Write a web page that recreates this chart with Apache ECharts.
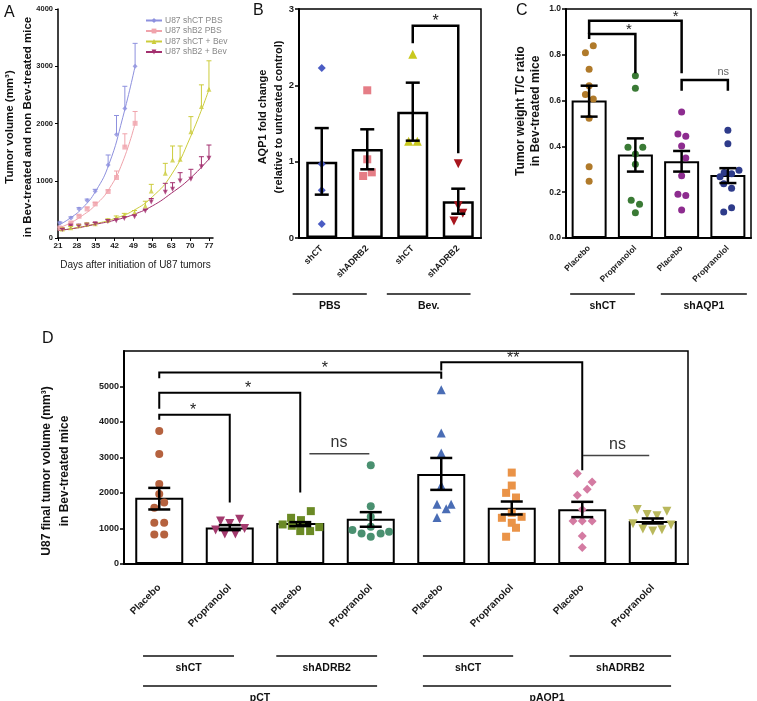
<!DOCTYPE html>
<html><head><meta charset="utf-8">
<script src="https://cdn.jsdelivr.net/npm/echarts@6/dist/echarts.min.js"></script>
<style>html,body{margin:0;padding:0;background:#fff}#c{width:757px;height:701px}</style>
</head><body><div id="c"></div>
<script>
// ================= DATA =================
// ---- Panel A (growth curves) ----
const aNames = ['U87 shCT PBS', 'U87 shB2 PBS', 'U87 shCT + Bev', 'U87 shB2 + Bev'];
const aDaysPbs = [21.7, 25.8, 28.8, 31.8, 34.8, 39.6, 42.7, 45.8, 49.6];
const aShctPbs = [263, 350, 508, 654, 818, 1273, 1810, 2260, 3000];
const aShctPbsTop = [280, 370, 530, 680, 850, 1450, 2140, 2650, 3400];
const aShb2Pbs = [175, 263, 380, 508, 596, 812, 1057, 1588, 2003];
const aShb2PbsTop = [190, 280, 400, 540, 620, 840, 1170, 1820, 2210];
const aDaysBev = [22.6, 25.7, 28.7, 31.7, 34.8, 39.5, 42.6, 45.6, 49.4, 53.4, 55.6, 60.8, 63.5, 66.3, 70.3, 74.2, 77.0];
const aShctBev = [158, 180, 216, 240, 251, 309, 356, 397, 444, 559, 821, 1130, 1362, 1375, 1857, 2295, 2599];
const aShctBevTop = [175, 200, 235, 260, 270, 335, 385, 430, 480, 642, 937, 1304, 1607, 1607, 2120, 2675, 3095];
const aShb2Bev = [150, 210, 210, 230, 250, 290, 300, 340, 370, 470, 630, 800, 850, 996, 1025, 1245, 1392];
const aShb2BevTop = [165, 225, 225, 245, 270, 320, 330, 370, 400, 500, 690, 955, 966, 1141, 1200, 1420, 1624];
const aFitDaysPbs = [21, 25, 30, 35, 40, 45, 49.6];
const aFitShctPbs = [220, 330, 520, 820, 1300, 2100, 3000];
const aFitShb2Pbs = [170, 250, 390, 580, 860, 1330, 2000];
const aFitDaysBev = [21, 28, 35, 42, 49, 56, 63, 70, 77.2];
const aFitShctBev = [130, 180, 250, 340, 480, 720, 1100, 1750, 2620];
const aFitShb2Bev = [130, 175, 240, 310, 410, 560, 780, 1040, 1390];

// ---- Panel B ----
const bCats = ['shCT', 'shADRB2', 'shCT', 'shADRB2'];
const bMean = [1.00, 1.166, 1.655, 0.48];
const bSemLo = [0.568, 0.90, 1.275, 0.318];
const bSemHi = [1.44, 1.424, 2.035, 0.646];
const bPts0 = [2.227, 0.969, 0.625, 0.183];
const bJit0 = [0, 0, 0, 0];
const bPts1 = [1.935, 1.031, 0.812, 0.860];
const bJit1 = [0, 0, -0.09, 0.10];
const bPts2 = [2.406, 1.266, 1.266];
const bJit2 = [0, -0.09, 0.10];
const bPts3 = [0.974, 0.424, 0.323, 0.223];
const bJit3 = [0, 0, 0.10, -0.095];
const bBrk = [[2, 3, 2.78, 2.55, 1.11, 2.5]];
const bBrkLab = ['*'];
const bGroups = ['PBS', 'Bev.'];
const bGroupSpan = [[-0.64, 0.99], [1.43, 3.27]];

// ---- Panel C ----
const cCats = ['Placebo', 'Propranolol', 'Placebo', 'Propranolol'];
const cMean = [0.60, 0.365, 0.335, 0.275];
const cSemLo = [0.53, 0.29, 0.29, 0.24];
const cSemHi = [0.665, 0.435, 0.38, 0.305];
const cPts0 = [0.840, 0.809, 0.737, 0.665, 0.627, 0.607, 0.523, 0.311, 0.248];
const cJit0 = [0.09, -0.08, 0, 0, -0.08, 0.09, 0, 0, 0];
const cPts1 = [0.709, 0.654, 0.396, 0.396, 0.367, 0.322, 0.165, 0.147, 0.110];
const cJit1 = [0, 0, -0.16, 0.16, 0, 0, -0.09, 0.09, 0];
const cPts2 = [0.550, 0.454, 0.444, 0.402, 0.349, 0.272, 0.191, 0.186, 0.122];
const cJit2 = [0, -0.08, 0.09, 0, 0.09, 0, -0.08, 0.09, 0];
const cPts3 = [0.470, 0.412, 0.268, 0.286, 0.281, 0.296, 0.237, 0.217, 0.132, 0.114];
const cJit3 = [0, 0, -0.17, -0.08, 0.08, 0.24, -0.09, 0.08, 0.08, -0.09];
const cBrk = [[0, 1, 0.891, 0.869, 0.719, 0.86], [0, 2, 0.949, 0.891, 0.719, 1.87], [2, 3, 0.69, 0.643, 0.643, 2.9]];
const cBrkLab = ['*', '*', 'ns'];
const cGroups = ['shCT', 'shAQP1'];
const cGroupSpan = [[-0.41, 0.99], [1.55, 3.41]];

// ---- Panel D ----
const dCats = ['Placebo', 'Propranolol', 'Placebo', 'Propranolol', 'Placebo', 'Propranolol', 'Placebo', 'Propranolol'];
const dMean = [1864, 1030, 1152, 1273, 2537, 1583, 1545, 1208];
const dSemLo = [1536, 955, 1067, 1049, 2088, 1395, 1320, 1142];
const dSemHi = [2144, 1096, 1180, 1461, 2987, 1760, 1751, 1283];
const dPts0 = [3745, 3099, 2256, 1975, 1733, 1582, 1161, 1161, 834, 834];
const dJit0 = [0, 0, 0, 0, 0.07, -0.07, -0.07, 0.07, -0.07, 0.07];
const dPts1 = [1208, 1143, 1264, 955, 843, 843, 1002];
const dJit1 = [-0.13, 0, 0.14, -0.2, -0.07, 0.08, 0.21];
const dPts2 = [1114, 1301, 1236, 1489, 1039, 1077, 927, 927];
const dJit2 = [-0.25, -0.13, 0.01, 0.15, 0.27, -0.12, 0, 0.14];
const dPts3 = [2781, 1629, 1329, 1048, 955, 862, 767, 862, 908];
const dJit3 = [0, 0, 0, 0, -0.26, -0.13, 0, 0.14, 0.26];
const dPts4 = [4907, 3689, 3127, 2210, 1685, 1685, 1554, 1311];
const dJit4 = [0, 0, 0, 0, -0.06, 0.14, 0.07, -0.06];
const dPts5 = [2575, 2210, 2004, 1873, 1442, 1301, 1329, 1161, 1021, 768];
const dJit5 = [0, 0, -0.08, 0.06, 0, -0.14, 0.14, 0, 0.06, -0.08];
const dPts6 = [2547, 2313, 2107, 1938, 1536, 1208, 1208, 1208, 786, 468];
const dJit6 = [-0.07, 0.14, 0.07, -0.07, 0, -0.13, 0, 0.14, 0, 0];
const dPts7 = [1536, 1395, 1358, 1489, 1133, 983, 927, 964, 1096];
const dJit7 = [-0.22, -0.08, 0.06, 0.2, -0.28, -0.14, 0, 0.13, 0.26];
const dBrk = [[0, 1, 4205, 4065, 1733, 0.48], [0, 2, 4823, 4374, 2014, 1.26], [0, 4, 5393, 5233, 5216, 2.35],
              [4, 6, 5683, 5450, 2640, 5.02], [2.13, 2.98, 3109, 3109, 3109, 2.55], [6.01, 6.95, 3053, 3053, 3053, 6.5]];
const dBrkLab = ['*', '*', '*', '**', 'ns', 'ns'];
const dGroups1 = ['shCT', 'shADRB2', 'shCT', 'shADRB2'];
const dGroupSpan1 = [[-0.23, 1.06], [1.66, 3.09], [3.74, 5.02], [5.82, 7.26]];
const dGroups2 = ['pCT', 'pAQP1'];
const dGroupSpan2 = [[-0.23, 3.09], [3.74, 7.26]];
const dTickValues = [0, 1000, 2000, 3000, 4000, 5000];

// ================= CHART =================
const F = '"Liberation Sans", Arial, Helvetica, sans-serif';
const DOWN = 'path://M0,0 L10,0 L5,9 Z';
const zip = (xs, ys) => xs.map((x, i) => [x, ys[i]]);
const jitter = (ci, pts, jit) => pts.map((v, i) => [ci + jit[i], v]);
const plain = v => String(v);

function errSeries(xi, yi, data, cap, lw, color, oneSided) {
  return {type: 'custom', xAxisIndex: xi, yAxisIndex: yi, data, z: 5, silent: true,
    renderItem: (params, api) => {
      const x = api.value(0), lo = api.value(1), hi = api.value(2);
      const a = api.coord([x, lo]), b = api.coord([x, hi]);
      const st = {stroke: color, lineWidth: lw};
      const ch = [
        {type: 'line', shape: {x1: a[0], y1: a[1], x2: b[0], y2: b[1]}, style: st},
        {type: 'line', shape: {x1: b[0] - cap / 2, y1: b[1], x2: b[0] + cap / 2, y2: b[1]}, style: st}];
      if (!oneSided) ch.push({type: 'line', shape: {x1: a[0] - cap / 2, y1: a[1], x2: a[0] + cap / 2, y2: a[1]}, style: st});
      return {type: 'group', children: ch};
    }};
}
function bracketSeries(xi, yi, data, labels, styleFn) {
  return {type: 'custom', xAxisIndex: xi, yAxisIndex: yi, data, z: 6, silent: true,
    renderItem: (params, api) => {
      const v = [0, 1, 2, 3, 4, 5].map(i => api.value(i));
      const pts = [api.coord([v[0], v[3]]), api.coord([v[0], v[2]]), api.coord([v[1], v[2]]), api.coord([v[1], v[4]])];
      const lab = labels[params.dataIndex];
      const s = styleFn(lab);
      const pl = api.coord([v[5], v[2]]);
      return {type: 'group', children: [
        {type: 'polyline', shape: {points: pts}, style: {stroke: s.line, lineWidth: s.lw, fill: null}},
        {type: 'text', x: pl[0], y: pl[1] + s.dy, style: {text: lab, align: 'center', verticalAlign: 'middle', font: s.font, fill: s.color}}
      ]};
    }};
}
function groupSeries(xi, yi, spans, labels, lineOff, textOff) {
  return {type: 'custom', xAxisIndex: xi, yAxisIndex: yi, data: spans, z: 6, silent: true, clip: false,
    renderItem: (params, api) => {
      const a = api.coord([api.value(0), 0]), b = api.coord([api.value(1), 0]);
      const y = a[1] + lineOff;
      return {type: 'group', children: [
        {type: 'line', shape: {x1: a[0], y1: y, x2: b[0], y2: y}, style: {stroke: '#111', lineWidth: 1.5}},
        {type: 'text', x: (a[0] + b[0]) / 2, y: a[1] + textOff, style: {text: labels[params.dataIndex], align: 'center', verticalAlign: 'middle', font: 'bold 10.5px ' + F, fill: '#111'}}
      ]};
    }};
}
function scatter(xi, yi, data, symbol, size, color) {
  return {type: 'scatter', xAxisIndex: xi, yAxisIndex: yi, data, symbol, symbolSize: size, z: 4, silent: true,
    itemStyle: {color: color, opacity: 1}};
}
function bars(xi, yi, data, w, bw) {
  return {type: 'bar', xAxisIndex: xi, yAxisIndex: yi, data, barWidth: w, z: 2, silent: true,
    itemStyle: {color: '#fff', borderColor: '#000', borderWidth: bw}};
}
function catAxis(g, data, fs, margin) {
  return {type: 'category', gridIndex: g, data,
    axisLine: {onZero: false, lineStyle: {color: '#000', width: 2}},
    axisTick: {alignWithLabel: true, length: 5, lineStyle: {color: '#000', width: 1.5}},
    axisLabel: {rotate: 45, margin, interval: 0, fontSize: fs, fontWeight: 'bold', fontFamily: F, color: '#1a1a1a'},
    splitLine: {show: false}};
}
const hidX = (g, n) => ({type: 'value', gridIndex: g, min: -0.5, max: n - 0.5, show: false});
function yAx(g, min, max, interval, fs, fmt, extra) {
  return Object.assign({type: 'value', gridIndex: g, min, max, interval,
    axisLine: {show: true, onZero: false, lineStyle: {color: '#000', width: 2}},
    axisTick: {show: true, length: 4, lineStyle: {color: '#000', width: 1.5}},
    axisLabel: {fontSize: fs, fontWeight: 'bold', fontFamily: F, color: '#1a1a1a', margin: 5, formatter: fmt},
    splitLine: {show: false}}, extra || {});
}

const series = [];
// ---- A ----
const aCol = ['#8d90de', '#f0a3ab', '#cccc3c', '#a3306f'];
const aSym = ['diamond', 'rect', 'triangle', DOWN];
const aFits = [zip(aFitDaysPbs, aFitShctPbs), zip(aFitDaysPbs, aFitShb2Pbs), zip(aFitDaysBev, aFitShctBev), zip(aFitDaysBev, aFitShb2Bev)];
const aPts = [zip(aDaysPbs, aShctPbs), zip(aDaysPbs, aShb2Pbs), zip(aDaysBev, aShctBev), zip(aDaysBev, aShb2Bev)];
const aErr = [
  aDaysPbs.map((d, i) => [d, aShctPbs[i], aShctPbsTop[i]]),
  aDaysPbs.map((d, i) => [d, aShb2Pbs[i], aShb2PbsTop[i]]),
  aDaysBev.map((d, i) => [d, aShctBev[i], aShctBevTop[i]]),
  aDaysBev.map((d, i) => [d, aShb2Bev[i], aShb2BevTop[i]])];
for (let k = 0; k < 4; k++) {
  series.push({type: 'line', name: aNames[k], xAxisIndex: 0, yAxisIndex: 0, data: aFits[k], smooth: true,
    showSymbol: false, symbol: aSym[k], symbolSize: 6, silent: true, z: 2,
    lineStyle: {color: aCol[k], width: 1}, itemStyle: {color: aCol[k]}});
  series.push(errSeries(0, 0, aErr[k], 5, 1, aCol[k], true));
  series.push({type: 'scatter', name: aNames[k], xAxisIndex: 0, yAxisIndex: 0, data: aPts[k], symbol: aSym[k],
    symbolSize: 5, silent: true, z: 4, itemStyle: {color: aCol[k]}});
}
// ---- B ----
series.push(bars(1, 1, bMean, 31, 2.5));
series.push(scatter(2, 1, jitter(0, bPts0, bJit0), 'diamond', 8, '#4b5cc4'));
series.push(scatter(2, 1, jitter(1, bPts1, bJit1), 'rect', 8, '#e57d86'));
series.push(scatter(2, 1, jitter(2, bPts2, bJit2), 'triangle', 9, '#c9c81e'));
series.push(scatter(2, 1, jitter(3, bPts3, bJit3), DOWN, 9, '#a8161e'));
series.push(errSeries(2, 1, bSemLo.map((l, i) => [i, l, bSemHi[i]]), 14, 2.5, '#000', false));
series.push(bracketSeries(2, 1, bBrk, bBrkLab, () => ({line: '#000', lw: 2.5, dy: -4, font: '16px ' + F, color: '#222'})));
series.push(groupSeries(2, 1, bGroupSpan, bGroups, 56, 68));
// ---- C ----
series.push(bars(3, 2, cMean, 35, 2));
series.push(scatter(4, 2, jitter(0, cPts0, cJit0), 'circle', 7, '#b07a2a'));
series.push(scatter(4, 2, jitter(1, cPts1, cJit1), 'circle', 7, '#3a7a35'));
series.push(scatter(4, 2, jitter(2, cPts2, cJit2), 'circle', 7, '#8d2c8f'));
series.push(scatter(4, 2, jitter(3, cPts3, cJit3), 'circle', 7, '#2e3b8a'));
series.push(errSeries(4, 2, cSemLo.map((l, i) => [i, l, cSemHi[i]]), 17, 2.5, '#000', false));
series.push(bracketSeries(4, 2, cBrk, cBrkLab, (lab) => lab === 'ns'
  ? {line: '#000', lw: 2.5, dy: -8, font: '11px ' + F, color: '#666'}
  : {line: '#000', lw: 2.5, dy: -4, font: '15px ' + F, color: '#222'}));
series.push(groupSeries(4, 2, cGroupSpan, cGroups, 56, 68));
// ---- D ----
series.push(bars(5, 3, dMean, 48, 2));
const dSets = [[dPts0, dJit0, 'circle', 8, '#b5623f'], [dPts1, dJit1, DOWN, 9, '#a33a6e'], [dPts2, dJit2, 'rect', 8, '#6b8a25'],
  [dPts3, dJit3, 'circle', 8, '#4a9070'], [dPts4, dJit4, 'triangle', 9, '#4a6db5'], [dPts5, dJit5, 'rect', 8, '#ea9347'],
  [dPts6, dJit6, 'diamond', 9, '#d47ba2'], [dPts7, dJit7, DOWN, 9, '#b9b85c']];
dSets.forEach((s, i) => series.push(scatter(6, 3, jitter(i, s[0], s[1]), s[2], s[3], s[4])));
series.push(errSeries(6, 3, dSemLo.map((l, i) => [i, l, dSemHi[i]]), 22, 2.5, '#000', false));
series.push(bracketSeries(6, 3, dBrk, dBrkLab, (lab) => lab === 'ns'
  ? {line: '#444', lw: 1.5, dy: -11, font: '16px ' + F, color: '#333'}
  : {line: '#000', lw: 2, dy: -4, font: '16px ' + F, color: '#222'}));
series.push(groupSeries(6, 3, dGroupSpan1, dGroups1, 92, 104));
series.push(groupSeries(6, 3, dGroupSpan2, dGroups2, 122, 134));

const txt = (t, x, y, font, rot, lh) => ({type: 'text', x, y, rotation: rot || 0, silent: true,
  style: {text: t, font, fill: '#111', align: 'center', verticalAlign: 'middle', lineHeight: lh || 17}});

const option = {
  animation: false,
  backgroundColor: '#fff',
  grid: [
    {left: 58, top: 9, width: 155, height: 229},
    {left: 299, top: 9, width: 182, height: 229, show: true, borderColor: '#000', borderWidth: 1.5},
    {left: 566, top: 9, width: 185, height: 229, show: true, borderColor: '#000', borderWidth: 1.5},
    {left: 124, top: 351, width: 564, height: 213, show: true, borderColor: '#000', borderWidth: 1.5}
  ],
  xAxis: [
    {type: 'value', gridIndex: 0, min: 21, max: 78.5, interval: 7,
      axisLine: {onZero: false, lineStyle: {color: '#000', width: 1.5}},
      axisTick: {length: 3, lineStyle: {color: '#000'}},
      axisLabel: {fontSize: 8, fontWeight: 'bold', fontFamily: F, color: '#1a1a1a', margin: 4},
      splitLine: {show: false},
      name: 'Days after initiation of U87 tumors', nameLocation: 'middle', nameGap: 22,
      nameTextStyle: {fontSize: 10, fontFamily: F, color: '#222'}},
    catAxis(1, bCats, 9, 9), hidX(1, 4),
    catAxis(2, cCats, 8.5, 9), hidX(2, 4),
    catAxis(3, dCats, 10, 22), hidX(3, 8)
  ],
  yAxis: [
    yAx(0, 0, 4000, 1000, 7.5, plain, {axisLine: {show: true, onZero: false, lineStyle: {color: '#000', width: 1.5}}, axisTick: {show: true, length: 3, lineStyle: {color: '#000'}}}),
    yAx(1, 0, 3, 1, 9.5, plain),
    yAx(2, 0, 1, 0.2, 8.5, v => v.toFixed(1)),
    yAx(3, 0, 6000, 1000, 9, plain, {
      axisTick: {show: true, length: 4, lineStyle: {color: '#000', width: 1.5}, customValues: dTickValues},
      axisLabel: {fontSize: 9, fontWeight: 'bold', fontFamily: F, color: '#1a1a1a', margin: 5, formatter: plain, customValues: dTickValues}})
  ],
  legend: {left: 140, top: 11, orient: 'vertical', itemGap: 1.5, itemWidth: 16, itemHeight: 6, selectedMode: false,
    data: aNames, textStyle: {fontSize: 8.5, lineHeight: 9, color: '#888', fontFamily: F, padding: [0, 0, 0, -2]}},
  graphic: [
    {type: 'text', left: 4, top: 5, silent: true, style: {text: 'A', font: '16px ' + F, fill: '#111'}},
    {type: 'text', left: 253, top: 3, silent: true, style: {text: 'B', font: '16px ' + F, fill: '#111'}},
    {type: 'text', left: 516, top: 3, silent: true, style: {text: 'C', font: '16px ' + F, fill: '#111'}},
    {type: 'text', left: 42, top: 331, silent: true, style: {text: 'D', font: '16px ' + F, fill: '#111'}},
    txt('Tumor volume (mm³)\nin Bev-treated and non Bev-treated mice', 19, 127, 'bold 11.5px ' + F, Math.PI / 2, 18),
    txt('AQP1 fold change\n(relative to untreated control)', 271, 117, 'bold 11px ' + F, Math.PI / 2, 16),
    txt('Tumor weight T/C ratio\nin Bev-treated mice', 528, 111, 'bold 12px ' + F, Math.PI / 2, 15),
    txt('U87 final tumor volume (mm³)\nin Bev-treated mice', 56, 471, 'bold 12px ' + F, Math.PI / 2, 18)
  ],
  series
};
const chart = echarts.init(document.getElementById('c'));
chart.setOption(option);
</script></body></html>
